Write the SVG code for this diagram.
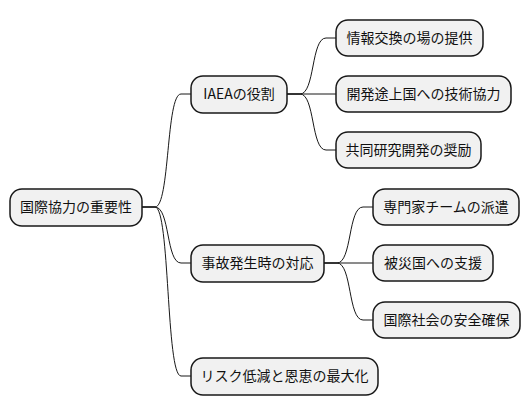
<svg xmlns="http://www.w3.org/2000/svg" width="530" height="415" viewBox="0 0 530 415">
<style>
.n rect{fill:#f1f1f1;stroke:#181818;stroke-width:1.5}
.n text{font-family:"Noto Sans CJK JP","Noto Sans",sans-serif;font-size:14px;fill:#111;text-anchor:middle}
.c path{fill:none;stroke:#181818;stroke-width:1}
</style>
<rect width="530" height="415" fill="#fff"/>
<g class="c">
<path d="M142,207 L155,207 C170,207 166,94 181,94 L191,94"/>
<path d="M142,207 L155,207 C170,207 166,263 181,263 L191,263"/>
<path d="M142,207 L155,207 C170,207 166,376 181,376 L191,376"/>
<path d="M287,94 L300,94 C315,94 311,38 326,38 L336,38"/>
<path d="M287,94 L336,94"/>
<path d="M287,94 L300,94 C315,94 311,150 326,150 L336,150"/>
<path d="M324,263 L337,263 C352,263 348,207 363,207 L373,207"/>
<path d="M324,263 L373,263"/>
<path d="M324,263 L337,263 C352,263 348,320 363,320 L373,320"/>
</g>
<g id="root" class="n"><rect x="10" y="189" width="132" height="37" rx="12"/><text x="76" y="212">国際協力の重要性</text></g>
<g id="iaea" class="n"><rect x="191" y="76" width="96" height="37" rx="12"/><text x="239" y="99">IAEAの役割</text></g>
<g id="info" class="n"><rect x="336" y="20" width="147" height="36" rx="12"/><text x="409.5" y="43">情報交換の場の提供</text></g>
<g id="tech" class="n"><rect x="336" y="76" width="175" height="36" rx="12"/><text x="423.5" y="99">開発途上国への技術協力</text></g>
<g id="research" class="n"><rect x="336" y="132" width="145" height="36" rx="12"/><text x="408.5" y="155">共同研究開発の奨励</text></g>
<g id="accident" class="n"><rect x="191" y="245" width="133" height="37" rx="12"/><text x="257.5" y="268">事故発生時の対応</text></g>
<g id="experts" class="n"><rect x="373" y="189" width="146" height="36" rx="12"/><text x="446" y="212">専門家チームの派遣</text></g>
<g id="support" class="n"><rect x="373" y="245" width="120" height="36" rx="12"/><text x="433" y="268">被災国への支援</text></g>
<g id="safety" class="n"><rect x="373" y="302" width="147" height="36" rx="12"/><text x="446.5" y="325">国際社会の安全確保</text></g>
<g id="risk" class="n"><rect x="191" y="358" width="187" height="37" rx="12"/><text x="284.5" y="381">リスク低減と恩恵の最大化</text></g>
</svg>
